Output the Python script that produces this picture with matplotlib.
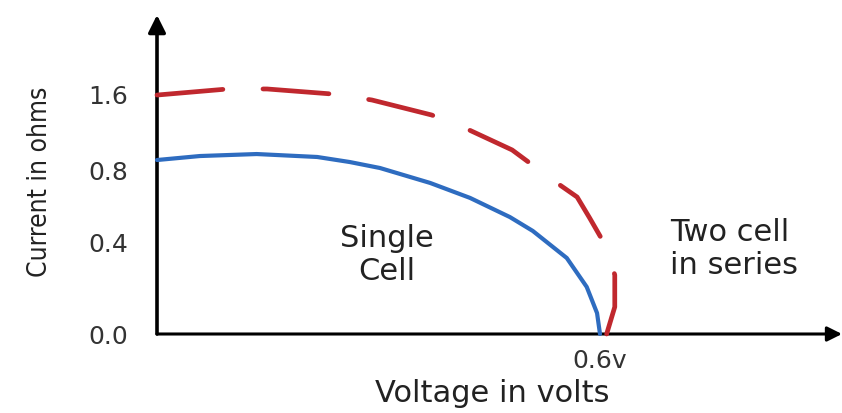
import numpy as np
import matplotlib
matplotlib.use("Agg")
import matplotlib.pyplot as plt
from matplotlib import font_manager

# datos (voltaje en V, corriente)
v_single = [0.0, 0.058, 0.135, 0.217, 0.261, 0.302, 0.370, 0.424, 0.478, 0.509, 0.555,
            0.582, 0.596, 0.600]
i_single = [0.905, 0.947, 0.968, 0.937, 0.884, 0.821, 0.729, 0.647, 0.542, 0.466, 0.334,
            0.207, 0.092, 0.0]

v_series = [0.0, 0.096, 0.149, 0.237, 0.291, 0.372, 0.414, 0.481, 0.536, 0.569, 0.586,
            0.611, 0.620, 0.620, 0.609]
i_series = [1.589, 1.653, 1.653, 1.600, 1.537, 1.379, 1.253, 1.011, 0.745, 0.652, 0.537,
            0.369, 0.259, 0.119, 0.0]

y_ticks = [0.0, 0.4, 0.8, 1.6]
y_tick_labels = ["0.0", "0.4", "0.8", "1.6"]
x_ticks = [0.6]
x_tick_labels = ["0.6v"]

# la escala vertical del original no es lineal
escala_vals = [0.0, 0.4, 0.8, 1.6, 3.0]
escala_px = [0, 91, 164, 240, 373]


def fwd(v):
    return np.interp(v, escala_vals, escala_px)


def inv(h):
    return np.interp(h, escala_px, escala_vals)


fig = plt.figure(figsize=(8.42, 4.13), dpi=100)
ax = fig.add_axes([157 / 842, 79 / 413, 685 / 842, 319 / 413])
ax.set_yscale("function", functions=(fwd, inv))
ax.set_xlim(0, 0.6 * 685 / 443)
ax.set_ylim(0, inv(319))

for s in ax.spines.values():
    s.set_visible(False)

ax.plot(v_single, i_single, color="#2e6cc0", lw=3.0, solid_capstyle="round",
        solid_joinstyle="round", clip_on=False, zorder=3)
ax.plot(v_series, i_series, color="#c0282e", lw=3.4, dashes=(14, 8.5),
        dash_capstyle="round", dash_joinstyle="round", clip_on=False, zorder=3)

# ejes con flechas
ax.annotate("", xy=(1, 0), xytext=(0, 0), xycoords="axes fraction",
            arrowprops=dict(arrowstyle="-|>", lw=2.2, color="black", mutation_scale=22,
                            shrinkA=0, shrinkB=0), zorder=2)
ax.annotate("", xy=(0, 1), xytext=(0, 0), xycoords="axes fraction",
            arrowprops=dict(arrowstyle="-|>", lw=2.6, color="black", mutation_scale=26,
                            shrinkA=0, shrinkB=0), zorder=2)

ax.set_yticks(y_ticks)
ax.set_yticklabels(y_tick_labels, fontsize=18, color="#333333")
ax.set_xticks(x_ticks)
ax.set_xticklabels(x_tick_labels, fontsize=18, color="#333333")
ax.yaxis.set_minor_locator(plt.NullLocator())
ax.tick_params(axis="y", length=0, pad=21)
ax.tick_params(axis="x", length=0, pad=11)

ax.text(0.3115, 0.347, "Single\nCell", fontsize=22, ha="center", va="center",
        linespacing=1.2, color="#222222")
ax.text(0.695, 0.374, "Two cell\nin series", fontsize=22, ha="left", va="center",
        linespacing=1.2, color="#222222")

fig.text(492 / 842, 1 - 393 / 413, "Voltage in volts", fontsize=22, ha="center", va="center",
         color="#222222")

# fuente estrecha para la etiqueta vertical
fp = font_manager.FontProperties(family="DejaVu Sans", stretch="condensed", size=19)
fig.text(40 / 842, 1 - 182 / 413, "Current in ohms", rotation=90,
         ha="center", va="center", color="#222222", fontproperties=fp)

fig.savefig("out.png", dpi=100)
